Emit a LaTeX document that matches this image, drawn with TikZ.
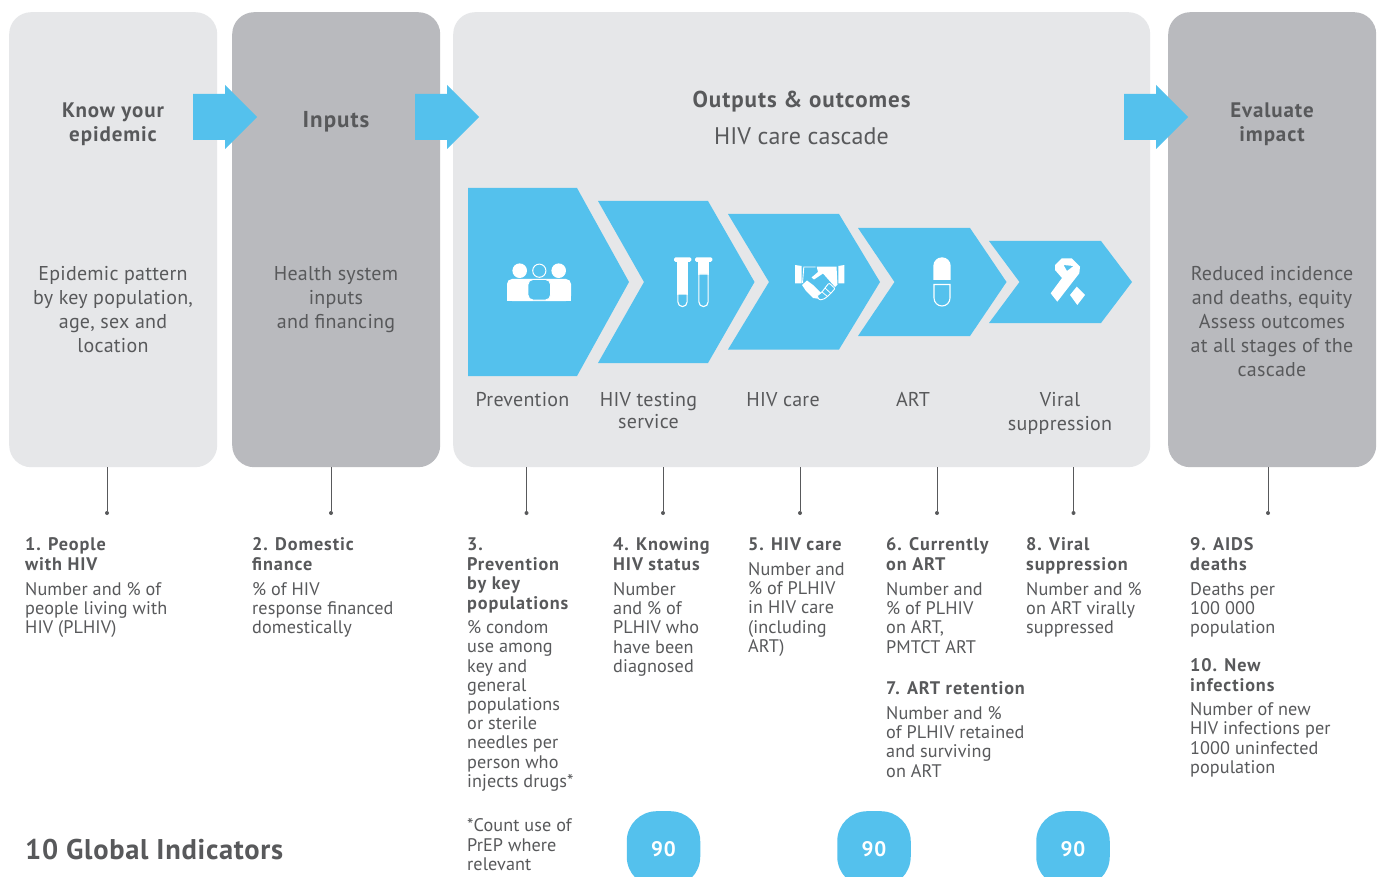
\documentclass[tikz,border=0pt]{standalone}
\usepackage{fontspec}
\setmainfont[LetterSpace=1.25,BoldFeatures={LetterSpace=4.3}]{PT Sans}
\newfontfamily\bodyf[LetterSpace=0.5,BoldFeatures={LetterSpace=4.9}]{PT Sans}
\newfontfamily\titlef[BoldFeatures={LetterSpace=2.5}]{PT Sans}
\definecolor{lightp}{HTML}{E6E7E9}
\definecolor{darkp}{HTML}{B9BABE}
\definecolor{skyb}{HTML}{54C1ED}
\definecolor{ink}{HTML}{58595B}
\newcommand{\FS}[2]{\fontsize{#1}{#2}\selectfont}
\tikzset{
 x=1pt,y=-1pt,
 panel/.style={rounded corners=22pt,inner sep=0pt,minimum width=208pt,minimum height=455pt,anchor=north west},
 lbl/.style={inner sep=0pt,text=ink,anchor=north},
 lleft/.style={lbl,anchor=north west,align=left,font=\bodyf\FS{18.2}{19.3}},
 lbold/.style={lleft,font=\bodyf\FS{18.2}{19.5}\bfseries},
 big/.style={lbl,align=center,font=\FS{20}{24}},
 bigb/.style={lbl,align=center,font=\FS{21}{24}\bfseries},
 capt/.style={lbl,align=center,font=\FS{20}{22.5}},
 conn/.style={draw=ink,line width=0.8pt},
 tipdot/.style={fill=ink,draw=none,circle,inner sep=0pt,minimum size=4pt},
 chev/.style={fill=skyb,draw=none},
 flow/.style={fill=skyb,draw=none},
 ico/.style={fill=white,draw=none},
 icoline/.style={draw=white,line width=1pt,fill=skyb},
 badge/.style={fill=skyb,draw=none,rounded corners=30pt,minimum width=73.5pt,minimum height=75.5pt,inner sep=0pt,anchor=north,text=white,font=\FS{21}{24}\bfseries},
}
% name, style, x, baseline y, text
\newcommand{\TX}[5]{\node[#2] (#1) at (#3,#4-20) {\rule{0pt}{20pt}#5};}
\begin{document}
\begin{tikzpicture}
\useasboundingbox (0,0) rectangle (1378,877);
\fill[white] (0,0) rectangle (1378,877);
\node[panel,fill=lightp] (p1) at (9,12) {};
\node[panel,fill=darkp] (p2) at (232,12) {};
\node[panel,fill=lightp,minimum width=697pt] (p3) at (453,12) {};
\node[panel,fill=darkp] (p4) at (1168,12) {};
% flow arrows
\foreach \a in {193,415,1124}{
 \fill[flow] (\a,94)--(\a+32,94)--(\a+32,85)--(\a+64,117)--(\a+32,149)--(\a+32,140)--(\a,140)--cycle;
}
% chevrons
\fill[chev] (468,188)--(577,188)--(629,282)--(577,376)--(468,376)--cycle;
\fill[chev] (598,201)--(708,201)--(754.5,282)--(708,363)--(598,363)--(644,282)--cycle;
\fill[chev] (728,214)--(839,214)--(880,282)--(839,349.5)--(728,349.5)--(769,282)--cycle;
\fill[chev] (858,228)--(970,228)--(1006.5,282)--(970,336)--(858,336)--(894.5,282)--cycle;
\fill[chev] (989,241)--(1101,241)--(1132,282)--(1101,323)--(989,323)--(1019.5,282)--cycle;
% people icon
\fill[ico] (519.7,270.7) circle (7.3);
\fill[ico] (558.7,270.7) circle (7.3);
\draw[icoline] (539.3,270.7) circle (6.6);
\fill[ico,rounded corners=5pt] (507,301)--(507,279)--(571,279)--(571,301)--cycle;
\fill[ico] (507,295) rectangle (571,301);
\draw[icoline,line width=0.9pt,rounded corners=5pt] (528,300)--(528,279.5)--(550.5,279.5)--(550.5,300)--cycle;
% tubes
\foreach \q/\lev in {674/294,695/274}{
 \fill[ico,rounded corners=1.5pt] (\q,257.3) rectangle (\q+17.3,261.8);
 \fill[ico] (\q+3.3,260) rectangle (\q+13.7,\lev+1);
 \draw[icoline,line width=1.1pt] (\q+3.9,\lev) -- (\q+3.9,302) arc[start angle=180,end angle=0,radius=4.6] -- (\q+13.1,\lev) -- cycle;
}
% handshake
\fill[ico] (795,265)--(801.7,266)--(801.7,283.3)--(795,283.3)--cycle;
\fill[ico] (844.3,265)--(838.3,266)--(838.3,283.3)--(844.3,283.3)--cycle;
\draw[white,line width=0.9pt] (815.5,267)--(803.8,267)--(802.5,283);
\fill[ico] (816.7,266.7)--(836.5,266.7)--(837.5,284.5)--(835,287)--(823,273.5)--(814,279.5)--(811.5,277.5)--(818,272)--cycle;
\fill[ico] (802,285)--(807,280.5)--(813,285)--(823,295)--(820,299)--(813,298)--(806,291)--cycle;
\draw[white,line width=0.9pt,fill=skyb,rounded corners=1pt] (822,292)--(825,288)--(829,283)--(835,288.5)--(832,292)--(828,296)--(824,299)--(819.5,300)--(817,296)--cycle;
\draw[white,line width=0.8pt] (825,288)--(831,293.5) (822,292)--(827.5,296.5);
% pill
\fill[ico] (933.3,280) -- (933.3,266) arc[start angle=180,end angle=360,radius=8.7] -- (950.7,280) -- cycle;
\draw[draw=white,line width=1.1pt] (934,284.5) -- (934,298) arc[start angle=180,end angle=0,radius=8] -- (950,284.5) -- cycle;
% ribbon
\fill[ico,even odd rule] (1055,265)--(1061.7,258.3)--(1071.7,258.3)--(1080,266.7)--(1079.3,273.3)--(1057.3,301.7)--(1050.7,293.3)--(1062,278)--(1055,270)--cycle
 (1063.5,265)--(1073.5,266)--(1067,271)--cycle;
\fill[ico] (1076.7,286.7)--(1085,295)--(1077.3,305)--(1070,295)--cycle;
% headers
\TX{h1}{bigb}{113}{117}{Know your\\epidemic}
\TX{h2}{bigb,font=\FS{23}{24}\bfseries}{336}{127.5}{Inputs}
\TX{h3}{bigb,font=\FS{23}{24}\bfseries}{801.5}{107}{Outputs \& outcomes}
\TX{h3b}{big,font=\bodyf\FS{24}{24}}{801.5}{144}{HIV care cascade}
\TX{h4}{bigb}{1272}{117}{Evaluate\\impact}
\TX{b1}{big}{113}{280}{Epidemic pattern\\by key population,\\age, sex and\\location}
\TX{b2}{big}{336}{280}{Health system\\inputs\\and financing}
\TX{b4}{big}{1272}{280}{Reduced incidence\\and deaths, equity\\Assess outcomes\\at all stages of the\\cascade}
% chevron captions
\TX{c1}{capt}{522.5}{406}{Prevention}
\TX{c2}{capt}{648.5}{406}{HIV testing\\service}
\TX{c3}{capt}{783}{406}{HIV care}
\TX{c4}{capt}{913}{406}{ART}
\TX{c5}{capt,font=\FS{20}{24}}{1060}{406}{Viral\\suppression}
% connectors
\foreach \n/\p/\x in {1/p1/107,2/p2/331,3/p3/526.5,4/p3/663,5/p3/800,6/p3/937,7/p3/1073.5,8/p4/1268}{
 \node[tipdot] (t\n) at (\x,513) {};
 \draw[conn] (\p.south -| t\n) -- (t\n);
}
% indicators
\TX{i1}{lbold}{25}{550.5}{1. People\\with HIV}
\TX{d1}{lleft}{25}{595}{Number and \% of\\people living with\\HIV (PLHIV)}
\TX{i2}{lbold}{252}{550.5}{2. Domestic\\finance}
\TX{d2}{lleft}{252}{595}{\% of HIV\\response financed\\domestically}
\TX{i3}{lbold}{467}{550.5}{3.\\Prevention\\by key\\populations}
\TX{d3}{lleft,font=\bodyf\FS{18.2}{19.2}}{467}{633.5}{\% condom\\use among\\key and\\general\\populations\\or sterile\\needles per\\person who\\injects drugs*}
\TX{n3}{lleft}{467}{831.5}{*Count use of\\PrEP where\\relevant}
\TX{i4}{lbold}{613}{550.5}{4. Knowing\\HIV status}
\TX{d4}{lleft}{613}{595}{Number\\and \% of\\PLHIV who\\have been\\diagnosed}
\TX{i5}{lbold}{748}{550.5}{5. HIV care}
\TX{d5}{lleft}{748}{575}{Number and\\\% of PLHIV\\in HIV care\\(including\\ART)}
\TX{i6}{lbold}{886}{550.5}{6. Currently\\on ART}
\TX{d6}{lleft}{886}{595}{Number and\\\% of PLHIV\\on ART,\\PMTCT ART}
\TX{i7}{lbold}{886}{694.5}{7. ART retention}
\TX{d7}{lleft}{886}{719}{Number and \%\\of PLHIV retained\\and surviving\\on ART}
\TX{i8}{lbold}{1026}{550.5}{8. Viral\\suppression}
\TX{d8}{lleft}{1026}{595}{Number and \%\\on ART virally\\suppressed}
\TX{i9}{lbold}{1190}{550.5}{9. AIDS\\deaths}
\TX{d9}{lleft}{1190}{595}{Deaths per\\100 000\\population}
\TX{i10}{lbold}{1190}{671.5}{10. New\\infections}
\TX{d10}{lleft,font=\bodyf\FS{18.2}{19.2}}{1190}{715.5}{Number of new\\HIV infections per\\1000 uninfected\\population}
\TX{title}{lleft,font=\titlef\FS{28.5}{32}\bfseries}{25}{859}{10 Global Indicators}
% badges
\begin{scope}
\clip (0,0) rectangle (1378,877);
\node[badge] (g1) at (663.5,811) {90};
\node[badge] (g2) at (874,811) {90};
\node[badge] (g3) at (1073,811) {90};
\end{scope}
\end{tikzpicture}
\end{document}
